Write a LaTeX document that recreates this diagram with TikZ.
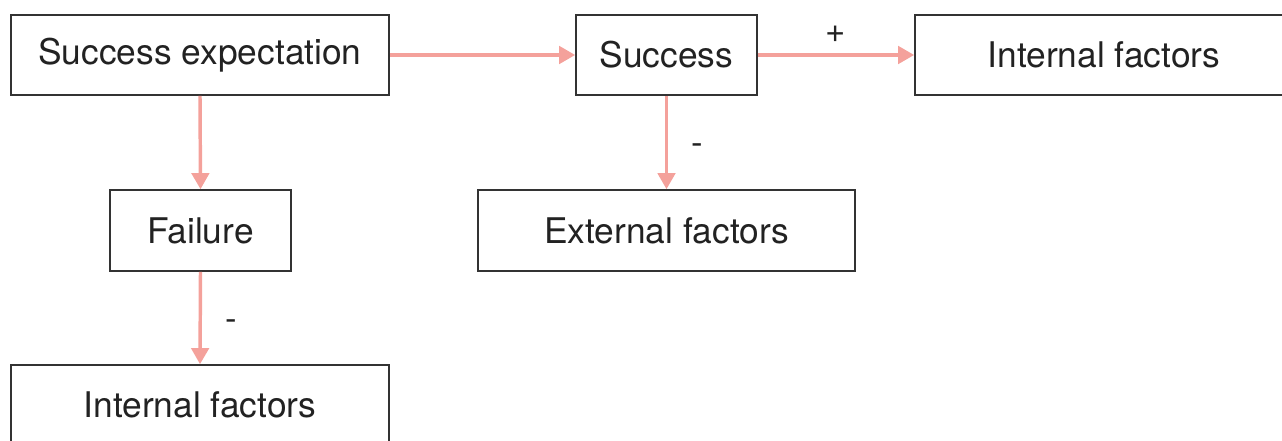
\documentclass[tikz,border=0pt]{standalone}
\usepackage{fontspec}
\setmainfont{TeX Gyre Heros}
\usetikzlibrary{arrows.meta}
\definecolor{boxline}{HTML}{333333}
\definecolor{linkred}{HTML}{F4A19B}
\definecolor{inktext}{HTML}{222222}
\begin{document}
\begin{tikzpicture}[x=0.75pt,y=-0.75pt,
  box/.style={draw=boxline,line width=1.2pt,fill=white,inner sep=0pt,
    text=inktext,font=\fontsize{26.5}{30}\selectfont},
  link/.style={draw=linkred,line width=2.6pt,
    -{Triangle[length=12pt,width=13pt,fill=linkred]}},
  sign/.style={text=inktext,font=\fontsize{26}{30}\selectfont}]
\useasboundingbox (0,0) rectangle (1282,441);
\clip (0,0) rectangle (1282,441);
\node[box,minimum width=378*0.75pt,minimum height=80*0.75pt] (se) at (200,55) {Success expectation};
\node[box,minimum width=181*0.75pt,minimum height=80*0.75pt] (su) at (666.5,55) {Success};
\node[box,minimum width=378*0.75pt,minimum height=80*0.75pt] (ift) at (1104,55) {Internal factors};
\node[box,minimum width=181*0.75pt,minimum height=81*0.75pt] (fa) at (200.5,230.5) {Failure};
\node[box,minimum width=377*0.75pt,minimum height=81*0.75pt] (ef) at (666.5,230.5) {External factors};
\node[box,minimum width=378*0.75pt,minimum height=80*0.75pt] (ifb) at (200,405) {Internal factors};
\draw[link] (se.east) -- (su.west);
\draw[link] (su.east) -- node[sign,above=5pt] (plus) {+} (ift.west);
\draw[link] (su.south) -- node[sign,right=14pt,yshift=-5pt] (m1) {-} (ef.north);
\draw[link] (se.south) -- (fa.north);
\draw[link] (fa.south) -- node[sign,right=14pt,yshift=-5pt] (m2) {-} (ifb.north);
\end{tikzpicture}
\end{document}
